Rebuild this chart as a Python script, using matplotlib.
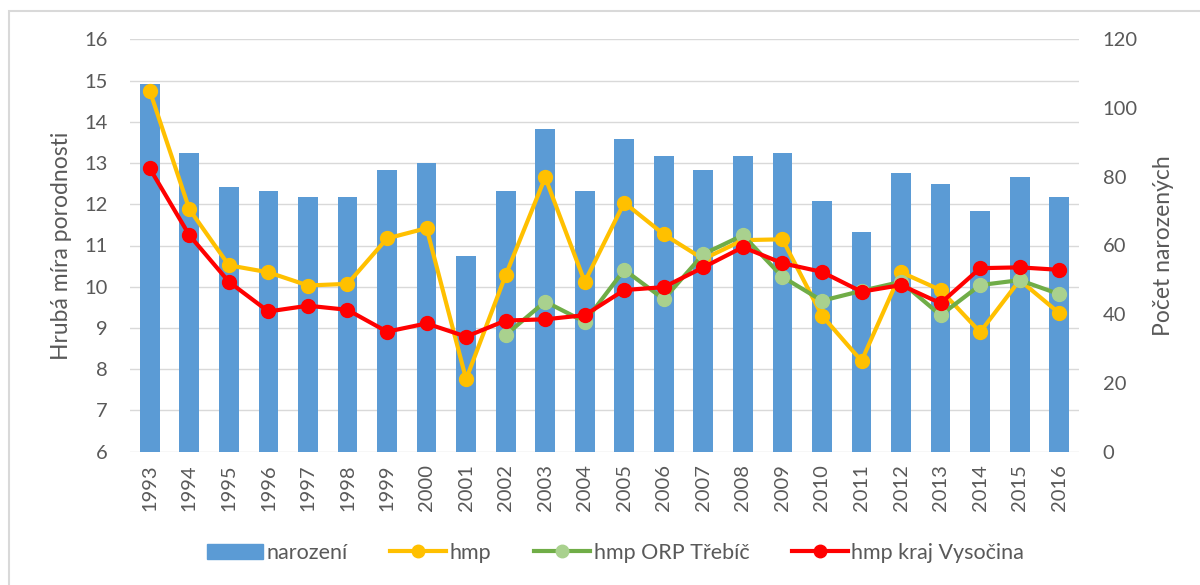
import numpy as np
import matplotlib
matplotlib.use("Agg")
import matplotlib.pyplot as plt
from matplotlib.lines import Line2D
from matplotlib.patches import Patch, Rectangle

years = list(range(1993, 2017))
narozeni = [107, 87, 77, 76, 74, 74, 82, 84, 57, 76, 94, 76, 91, 86, 82, 86, 87,
            73, 64, 81, 78, 70, 80, 74]
hmp = [14.75, 11.88, 10.52, 10.35, 10.03, 10.07, 11.17, 11.42, 7.76, 10.28, 12.65,
       10.12, 12.04, 11.27, 10.67, 11.13, 11.15, 9.30, 8.20, 10.35, 9.92, 8.90, 10.16, 9.36]
hmp_orp = [np.nan] * 9 + [8.83, 9.64, 9.15, 10.41, 9.70, 10.79, 11.25, 10.24, 9.66,
                          9.90, 10.12, 9.31, 10.04, 10.16, 9.82]
hmp_kraj = [12.87, 11.25, 10.12, 9.40, 9.54, 9.44, 8.91, 9.11, 8.79, 9.18, 9.21, 9.31,
            9.92, 9.99, 10.47, 10.96, 10.57, 10.36, 9.88, 10.04, 9.60, 10.45, 10.47, 10.41]

plt.rcParams['font.family'] = ['Lato', 'DejaVu Sans']
TXT = '#595959'
GRID = '#D9D9D9'

fig = plt.figure(figsize=(12, 5.85), dpi=100)
fig.patches.append(Rectangle((9/1200, -0.01), 1.5, 1 - 11/585 + 0.01, transform=fig.transFigure,
                             fill=False, edgecolor='#D9D9D9', linewidth=1.5))
ax = fig.add_axes([130/1200, 1 - 451.7/585, (1079 - 130)/1200, (451.7 - 39.3)/585])
ax2 = ax.twinx()

x = np.arange(len(years))
# bars on the secondary (right) axis
ax2.bar(x, narozeni, width=0.5, color='#5B9BD5', zorder=2)
ax2.set_ylim(0, 120)
ax2.set_yticks(range(0, 121, 20))

# lines on primary axis, drawn above bars
ax.set_zorder(ax2.get_zorder() + 1)
ax.patch.set_visible(False)
ax.plot(x, hmp, color='#FFC000', lw=3, marker='o', ms=10, mfc='#FFC000', mec='#FFC000',
        solid_capstyle='round', zorder=3)
ax.plot(x, hmp_orp, color='#70AD47', lw=3, marker='o', ms=10, mfc='#A9D18E', mec='#A9D18E',
        solid_capstyle='round', zorder=4)
ax.plot(x, hmp_kraj, color='#FF0000', lw=3, marker='o', ms=10, mfc='#FF0000', mec='#FF0000',
        solid_capstyle='round', zorder=5)
ax.set_ylim(6, 16)
ax.set_yticks(range(6, 17))
ax.set_xlim(-0.5, len(years) - 0.5)
ax.set_xticks(x)
ax.set_xticklabels([str(y) for y in years], rotation=90)

# gridlines on the right axis (behind bars)
for v in range(6, 17):
    ax2.axhline((v - 6) * 12, color=GRID, lw=1, zorder=0)

for a in (ax, ax2):
    for s in a.spines.values():
        s.set_visible(False)
    a.tick_params(length=0, labelsize=14.5, colors=TXT)
ax.tick_params(axis='y', pad=16)
ax.tick_params(axis='x', pad=9)
ax2.tick_params(axis='y', pad=17)

ax.set_ylabel('Hrubá míra porodnosti', fontsize=16.5, color=TXT, labelpad=9)
ax2.set_ylabel('Počet narozených', fontsize=16.5, color=TXT, labelpad=11)

handles = [Patch(color='#5B9BD5'),
           Line2D([], [], color='#FFC000', lw=3, marker='o', ms=9, mfc='#FFC000', mec='#FFC000'),
           Line2D([], [], color='#70AD47', lw=3, marker='o', ms=9, mfc='#A9D18E', mec='#A9D18E'),
           Line2D([], [], color='#FF0000', lw=3, marker='o', ms=9, mfc='#FF0000', mec='#FF0000')]
labels = ['narození', 'hmp', 'hmp ORP Třebíč', 'hmp kraj Vysočina']
leg = fig.legend(handles, labels, loc='center', bbox_to_anchor=(0.513, 1 - 553/585), ncol=4,
                 frameon=False, fontsize=15.5, handlelength=2.6, columnspacing=2.0,
                 handletextpad=0.15)
for t in leg.get_texts():
    t.set_color(TXT)

fig.savefig('out.png', dpi=100)
